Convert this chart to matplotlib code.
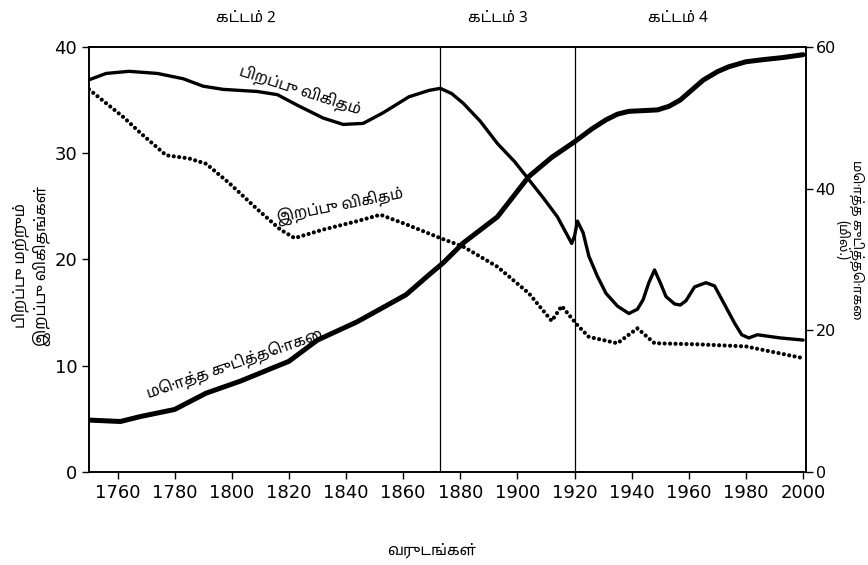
import matplotlib
matplotlib.use('Agg')
import matplotlib.pyplot as plt
import matplotlib.transforms as mtransforms
from matplotlib import font_manager
from matplotlib.ft2font import FT2Font

# look for an installed font with Tamil glyphs, prefer a proportional sans one
cands = []
for f in font_manager.fontManager.ttflist:
    try:
        if 0x0BA4 in FT2Font(f.fname).get_charmap():
            score = 0
            if 'Mono' in f.name or 'Mono' in f.fname:
                score -= 10
            if 'Sans' in f.name:
                score += 5
            if 'Tamil' in f.name:
                score += 3
            cands.append((score, f.name))
    except Exception:
        pass
cands.sort(reverse=True)
tamil = [cands[0][1], 'DejaVu Sans'] if cands else ['DejaVu Sans']

plt.rcParams['font.family'] = ['DejaVu Sans']

# data
birth_years = [1750, 1756, 1764, 1774, 1783, 1790, 1797, 1809, 1816, 1823, 1832, 1839, 1846,
               1853, 1862, 1869, 1873, 1877, 1881, 1887, 1893, 1899, 1904, 1909, 1914, 1917,
               1919, 1920, 1921, 1923, 1925, 1928, 1931, 1935, 1939, 1942, 1944, 1946, 1948,
               1950, 1952, 1955, 1957, 1959, 1962, 1966, 1969, 1971, 1974, 1976, 1978.5, 1981,
               1984, 1992, 2000]
birth_rate = [36.9, 37.5, 37.7, 37.5, 37.0, 36.3, 36.0, 35.8, 35.5, 34.5, 33.3, 32.7, 32.8,
              33.8, 35.3, 35.9, 36.1, 35.6, 34.7, 33.0, 30.9, 29.2, 27.5, 25.8, 24.0, 22.5,
              21.5, 22.2, 23.6, 22.5, 20.3, 18.4, 16.8, 15.6, 14.9, 15.3, 16.2, 17.8, 19.0,
              17.8, 16.5, 15.8, 15.7, 16.1, 17.4, 17.8, 17.5, 16.5, 15.0, 14.0, 12.9, 12.6,
              12.9, 12.6, 12.4]

death_years = [1750, 1762, 1768, 1777, 1785, 1791, 1799, 1809, 1817, 1822, 1832, 1844, 1852,
               1861, 1873, 1881, 1893, 1904, 1912, 1915.5, 1921, 1925, 1935, 1942, 1948,
               1963, 1980, 2000]
death_rate = [36.0, 33.4, 31.9, 29.8, 29.5, 29.0, 27.2, 24.7, 22.8, 22.0, 22.8, 23.6, 24.2,
              23.3, 22.0, 21.2, 19.3, 16.8, 14.2, 15.6, 13.8, 12.7, 12.1, 13.5, 12.1,
              12.0, 11.8, 10.7]

pop_years = [1750, 1761, 1768, 1780, 1791, 1803, 1820, 1830, 1844, 1861, 1869, 1874, 1881,
             1893, 1904, 1912, 1920, 1926, 1931, 1935, 1939, 1949, 1953, 1957, 1961, 1965,
             1970, 1974, 1980, 1986, 1993, 2000]
population = [7.3, 7.1, 7.8, 8.8, 11.1, 12.8, 15.6, 18.6, 21.2, 25.0, 27.8, 29.5, 32.3,
              36.0, 41.7, 44.4, 46.6, 48.4, 49.7, 50.5, 50.9, 51.1, 51.6, 52.5, 53.9, 55.3,
              56.5, 57.2, 57.9, 58.2, 58.5, 58.9]

stage_years = [1873, 1920]
stage_labels = ['கட்டம் 2', 'கட்டம் 3', 'கட்டம் 4']
stage_label_x = [1805, 1893, 1956]

x_ticks = list(range(1760, 2001, 20))

fig = plt.figure(figsize=(8.68, 5.65), dpi=100)
ax = fig.add_axes([0.1025, 0.165, 0.826, 0.752])
ax2 = ax.twinx()

ax.plot(birth_years, birth_rate, color='black', lw=2.4,
        solid_capstyle='round', solid_joinstyle='round')
ax.plot(death_years, death_rate, color='black', lw=3.0,
        linestyle=(0, (0.01, 1.3)), dash_capstyle='round')
ax2.plot(pop_years, population, color='black', lw=3.6,
         solid_capstyle='round', solid_joinstyle='round')

for yr in stage_years:
    ax.axvline(yr, color='black', lw=0.9)

ax.set_xlim(1750, 2001)
ax.set_ylim(0, 40)
ax2.set_ylim(0, 60)
ax.set_xticks(x_ticks)
ax.set_yticks([0, 10, 20, 30, 40])
ax2.set_yticks([0, 20, 40, 60])
ax.tick_params(labelsize=13, length=5, width=1)
ax2.tick_params(labelsize=11.5, length=5, width=1, pad=2)
for a in (ax, ax2):
    for s in a.spines.values():
        s.set_linewidth(1.2)

# curve labels
ax.text(1824, 35.9, 'பிறப்பு விகிதம்', family=tamil, fontsize=11, rotation=-18,
        ha='center', va='center')
ax.text(1838, 25.0, 'இறப்பு விகிதம்', family=tamil, fontsize=11, rotation=11,
        ha='center', va='center')
ax.text(1801, 10.2, 'மொத்த குடித்தொகை', family=tamil, fontsize=11, rotation=19,
        ha='center', va='center')

# stage labels above the plot
trans = mtransforms.blended_transform_factory(ax.transData, ax.transAxes)
for lbl, x in zip(stage_labels, stage_label_x):
    ax.text(x, 1.07, lbl, transform=trans, family=tamil, fontsize=11,
            ha='center', va='center')

fig.text(0.497, 0.027, 'வருடங்கள்', family=tamil, fontsize=11, ha='center', va='center')
fig.text(0.036, 0.53, 'பிறப்பு மற்றும்\nஇறப்பு விகிதங்கள்', family=tamil, fontsize=11,
         rotation=90, ha='center', va='center', linespacing=1.3)
fig.text(0.979, 0.575, 'மொத்த குடித்தொகை\n(மில்.)', family=tamil, fontsize=9.5,
         rotation=270, ha='center', va='center', linespacing=1.0)

fig.savefig('out.png', dpi=100)
